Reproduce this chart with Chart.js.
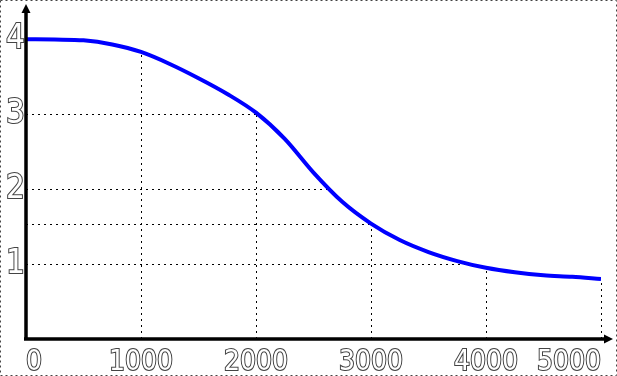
<!DOCTYPE html>
<html>
<head>
<meta charset="utf-8">
<script src="https://cdn.jsdelivr.net/npm/chart.js@4.4.1/dist/chart.umd.min.js"></script>
<style>
  html, body { margin: 0; padding: 0; background: #fff; }
  #wrap { width: 617px; height: 376px; position: relative; }
</style>
</head>
<body>
<div id="wrap"><canvas id="chart"></canvas></div>
<script>
// curve
const xValues = [0, 250, 500, 750, 1000, 1250, 1500, 1750, 2000, 2250, 2500,
  2750, 3000, 3250, 3500, 3750, 4000, 4250, 4500, 4750, 5000];
const yValues = [4.00, 3.995, 3.985, 3.93, 3.83, 3.67, 3.48, 3.27, 3.02, 2.67, 2.22,
  1.83, 1.54, 1.32, 1.16, 1.04, 0.95, 0.89, 0.85, 0.83, 0.80];

const xTicks = [0, 1000, 2000, 3000, 4000, 5000];
const yTicks = [1, 2, 3, 4];
const dropX = [1000, 2000, 3000, 4000, 5000]; // vertical guides up to the curve
const levelAtX = [3000]; // extra horizontal guide at the curve height

const fontFamily = "'Liberation Sans Narrow', 'DejaVu Sans Condensed', 'DejaVu Sans', sans-serif";

function curveAt(x) {
  for (let i = 0; i < xValues.length - 1; i++) {
    if (x >= xValues[i] && x <= xValues[i + 1]) {
      const t = (x - xValues[i]) / (xValues[i + 1] - xValues[i]);
      return yValues[i] + t * (yValues[i + 1] - yValues[i]);
    }
  }
  return yValues[yValues.length - 1];
}

function crossAt(y) {
  for (let i = 0; i < yValues.length - 1; i++) {
    const a = yValues[i], b = yValues[i + 1];
    if (a >= y && b <= y && a !== b) {
      return xValues[i] + (a - y) / (a - b) * (xValues[i + 1] - xValues[i]);
    }
  }
  return 0;
}

const guides = {
  id: 'guides',
  beforeDatasetsDraw(chart) {
    const { ctx, scales: { x, y } } = chart;
    ctx.save();
    ctx.strokeStyle = '#000';
    ctx.lineWidth = 1;
    ctx.setLineDash([2, 4]);
    dropX.forEach(v => {
      const px = Math.round(x.getPixelForValue(v)) + 0.5;
      ctx.beginPath();
      ctx.moveTo(px, y.getPixelForValue(0));
      ctx.lineTo(px, y.getPixelForValue(curveAt(v)));
      ctx.stroke();
    });
    const levels = yTicks.map(v => [v, crossAt(v)])
      .concat(levelAtX.map(v => [curveAt(v), v]));
    levels.forEach(([lv, xEnd]) => {
      const py = Math.round(y.getPixelForValue(lv)) + 0.5;
      ctx.beginPath();
      ctx.moveTo(x.getPixelForValue(0), py);
      ctx.lineTo(x.getPixelForValue(xEnd), py);
      ctx.stroke();
    });
    ctx.restore();
  },
  afterDatasetsDraw(chart) {
    const { ctx, chartArea: a } = chart;
    const x0 = a.left, y0 = a.bottom;
    ctx.save();
    ctx.strokeStyle = '#000';
    ctx.fillStyle = '#000';
    ctx.lineWidth = 3.5;
    ctx.beginPath();
    ctx.moveTo(x0, y0);
    ctx.lineTo(x0, 10);
    ctx.moveTo(x0 - 2, y0);
    ctx.lineTo(chart.width - 10, y0);
    ctx.stroke();
    // arrow heads
    ctx.beginPath();
    ctx.moveTo(x0, 4);
    ctx.lineTo(x0 - 4.5, 13);
    ctx.lineTo(x0 + 4.5, 13);
    ctx.closePath();
    ctx.fill();
    ctx.beginPath();
    ctx.moveTo(chart.width - 4, y0);
    ctx.lineTo(chart.width - 13, y0 - 4.5);
    ctx.lineTo(chart.width - 13, y0 + 4.5);
    ctx.closePath();
    ctx.fill();
    // dotted frame round the picture
    ctx.lineWidth = 1;
    ctx.setLineDash([2, 3]);
    ctx.strokeStyle = '#444';
    ctx.strokeRect(0.5, 0.5, chart.width - 1, chart.height - 1);
    ctx.restore();
  }
};

new Chart(document.getElementById('chart'), {
  type: 'line',
  data: {
    datasets: [{
      data: xValues.map((v, i) => ({ x: v, y: yValues[i] })),
      borderColor: '#0000ff',
      borderWidth: 4,
      pointRadius: 0,
      cubicInterpolationMode: 'monotone',
      fill: false
    }]
  },
  options: {
    responsive: true,
    maintainAspectRatio: false,
    animation: false,
    layout: { padding: { top: 9, right: 16, left: 0, bottom: 0 } },
    plugins: { legend: { display: false }, tooltip: { enabled: false } },
    scales: {
      x: {
        type: 'linear',
        min: 0,
        max: 5000,
        grid: { display: false, drawTicks: false },
        border: { display: false },
        afterBuildTicks: s => { s.ticks = xTicks.map(v => ({ value: v })); },
        afterFit: s => { s.height = 37; },
        ticks: {
          align: 'inner',
          padding: 10,
          font: { family: fontFamily, size: 28, style: 'normal condensed', lineHeight: 1 },
          color: '#fff',
          textStrokeColor: '#444',
          textStrokeWidth: 2,
          maxRotation: 0,
          autoSkip: false,
          callback: v => String(v)
        }
      },
      y: {
        min: 0,
        max: 4.4,
        grid: { display: false, drawTicks: false },
        border: { display: false },
        afterBuildTicks: s => { s.ticks = yTicks.map(v => ({ value: v })); },
        afterFit: s => { s.width = 26; },
        ticks: {
          padding: 1,
          font: { family: fontFamily, size: 33, style: 'normal condensed', lineHeight: 0.5 },
          color: '#fff',
          textStrokeColor: '#444',
          textStrokeWidth: 2,
          callback: v => String(v)
        }
      }
    }
  },
  plugins: [guides]
});
</script>
</body>
</html>
